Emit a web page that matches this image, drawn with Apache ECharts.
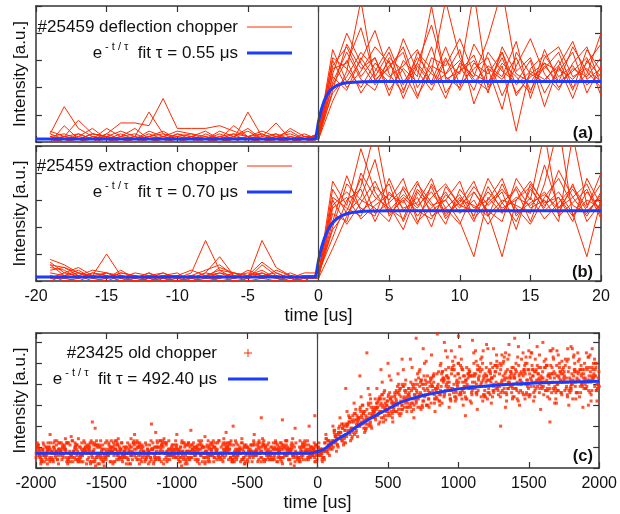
<!DOCTYPE html>
<html><head><meta charset="utf-8">
<script src="https://cdn.jsdelivr.net/npm/echarts/dist/echarts.min.js"></script>
<style>html,body{margin:0;padding:0;background:#fff}#c{width:620px;height:514px}</style>
</head><body><div id="c"></div><script>
// ---------- data ----------
const timeAB = [-19,-18,-17,-16,-15,-14,-13,-12,-11,-10,-9,-8,-7,-6,-5,-4,-3,-2,-1,0,1,2,3,4,5,6,7,8,9,10,11,12,13,14,15,16,17,18,19,20];
const xTicksAB = [-20,20,5];
const xTicksC = [-2000,2000,500];

const traceA1 = [3,13,5,2,1,1,0,1,2,1,1,0,2,1,1,0,2,1,0,2,28,35,24,31,19,27,22,35,18,26,30,21,33,17,25,29,20,27,24,31];
const traceA2 = [1,2,8,3,2,1,2,11,3,1,2,1,0,1,11,2,7,1,0,1,15,26,52,22,30,16,28,21,25,34,14,27,23,31,19,28,22,35,26,20];
const traceA3 = [2,1,2,1,3,7,7,6,16,5,5,5,6,4,2,1,1,0,1,3,34,22,30,41,25,18,33,27,16,29,24,38,56,26,31,18,27,23,29,36];
const traceA4 = [0,6,1,3,2,1,0,2,1,3,2,1,4,2,1,3,1,5,2,2,21,30,18,26,35,22,29,43,24,20,36,27,12,33,25,22,30,19,34,26];
const traceA5 = [4,2,1,0,3,1,2,0,1,2,3,1,0,2,4,1,0,2,1,1,25,40,29,21,28,33,17,26,52,31,23,19,28,4,27,32,24,28,21,25];
const traceA6 = [1,0,2,5,1,3,1,2,4,1,0,3,1,6,2,1,3,0,2,2,18,24,33,27,22,38,26,19,30,25,55,20,29,24,18,34,22,26,31,17];
const traceA7 = [0,1,0,2,1,0,1,3,1,0,2,1,3,1,2,0,1,2,1,3,30,20,26,35,29,21,31,25,22,28,19,33,26,22,30,13,28,37,23,27];
const traceA8 = [2,3,1,1,5,2,3,1,2,4,3,2,1,3,2,4,2,1,3,1,22,33,23,19,31,26,16,31,28,38,25,22,31,18,24,27,33,20,25,40];
const traceA9 = [1,2,3,1,0,2,1,4,2,1,2,0,1,2,5,1,2,3,1,2,27,29,42,24,33,19,29,22,35,21,27,31,17,28,38,25,19,29,35,21];
const traceA10 = [3,1,0,2,1,2,5,1,0,1,2,4,1,0,2,3,0,1,2,1,19,36,27,31,17,30,24,50,23,26,32,18,35,25,22,29,26,33,18,28];
const traceA11 = [0,2,1,3,2,0,1,2,3,2,1,2,0,1,1,2,3,1,0,2,24,19,31,23,27,35,20,28,25,30,22,28,24,37,16,31,35,24,27,22];
const traceA12 = [2,0,3,1,2,4,2,1,0,3,1,1,2,3,0,1,2,4,1,3,31,27,20,29,24,28,34,21,31,19,29,25,33,21,26,23,28,16,30,24];

const traceB1 = [8,6,3,2,10,2,1,0,2,1,3,15,4,1,2,3,1,0,2,2,37,28,49,33,25,30,21,36,27,32,24,38,29,22,34,27,41,31,24,33];
const traceB2 = [6,5,2,4,3,1,2,1,0,2,1,3,9,2,1,15,5,2,1,1,12,24,35,56,28,19,33,26,30,22,9,31,25,35,27,30,22,54,28,36];
const traceB3 = [7,3,5,2,1,4,1,2,1,0,2,1,5,3,2,1,4,2,0,3,28,33,27,24,38,26,31,20,35,28,33,25,9,30,37,28,33,25,9,30];
const traceB4 = [5,4,1,3,2,0,2,1,3,1,2,4,6,2,3,2,1,3,1,2,20,36,30,27,22,35,28,33,25,29,37,24,30,28,25,43,27,31,36,24];
const traceB5 = [6,2,4,1,3,2,0,1,2,3,0,2,3,1,2,7,3,1,2,1,25,22,40,31,27,23,36,29,21,34,27,30,38,24,31,23,29,35,27,40];
const traceB6 = [4,5,3,2,1,3,2,0,1,2,1,3,2,1,4,2,2,0,1,2,31,27,24,35,30,38,22,27,33,25,30,21,29,34,22,36,58,24,30,27];
const traceB7 = [2,1,2,0,1,2,1,3,0,1,2,1,1,2,0,1,2,1,3,3,16,30,34,22,33,27,29,38,24,31,22,35,26,31,28,33,25,36,22,29];
const traceB8 = [3,2,1,3,2,1,3,2,1,0,1,2,4,3,1,6,2,1,2,1,34,25,31,45,24,31,26,23,32,27,35,28,33,19,36,29,31,24,33,26];
const traceB9 = [1,3,2,1,0,2,1,2,3,1,0,1,2,0,1,3,1,2,1,2,22,39,26,30,36,22,34,28,30,37,23,29,34,27,21,31,38,28,25,32];
const traceB10 = [2,0,1,2,3,1,0,1,2,2,1,0,1,3,2,1,0,2,1,1,27,31,23,28,32,29,37,24,27,21,33,26,22,38,30,55,24,29,34,23];
const traceB11 = [0,2,3,1,2,0,1,3,1,2,4,2,0,1,2,4,1,0,2,2,19,26,38,25,29,34,24,31,36,28,26,33,27,30,35,26,31,22,38,28];
const traceB12 = [1,1,0,2,1,3,2,0,2,1,2,1,3,2,1,2,3,1,0,3,30,21,29,37,26,32,27,35,23,30,28,24,36,25,29,32,27,34,26,31];

const fitA_t = [-20,-0.2,0,0.2,0.4,0.6,0.8,1.0,1.3,1.6,2.0,2.5,3.2,4,20];
const fitA_y = [1.1,1.1,7.5,12.0,15.1,17.3,18.8,19.8,20.8,21.4,21.8,22.0,22.15,22.2,22.2];
const fitB_t = [-20,-0.2,0,0.2,0.4,0.6,0.8,1.0,1.3,1.6,2.0,2.5,3.2,4,5,20];
const fitB_y = [1.5,1.5,7.6,12.2,15.6,18.2,20.1,21.6,23.1,24.1,24.9,25.5,25.8,25.9,26,26];

// panel (c): sweeps sampled every 50 us from -2000 us, each with its own start offset
const sweepStart = -2000, sweepStep = 50;
const sweepOffsets = [0,25,12,37,6,31,18,43,3,28,15,40,9,34,21,46,23,10,35,48,1,30,17,42,26];
const sweep1 = [5,9,3,8,11,6,4,10,7,2,8,12,5,7,9,3,6,10,8,4,11,7,5,9,2,6,13,8,4,7,10,6,3,9,12,5,8,7,4,10,8,12,11,19,16,25,20,28,24,33,27,35,30,38,31,40,36,33,42,37,45,34,41,39,44,36,47,38,43,40,35,46,41,38,44,42,37,45,40,43,39];
const sweep2 = [8,4,10,6,2,9,12,5,7,3,10,6,8,14,4,7,9,5,11,6,3,8,10,7,5,12,6,9,4,8,11,3,7,10,6,9,5,13,7,8,6,9,15,13,22,18,27,22,31,25,34,28,36,31,39,30,41,35,38,44,33,47,36,42,35,48,38,43,32,45,41,36,49,38,42,34,46,40,37,44,42];
const sweep3 = [10,7,5,12,8,3,6,11,9,4,7,13,6,2,9,8,5,12,7,10,4,6,9,11,8,3,7,10,5,14,6,8,12,4,9,7,11,5,8,6,9,14,10,17,21,16,25,30,23,29,36,27,33,41,29,37,43,32,39,47,36,40,45,34,42,49,37,41,46,35,43,39,48,36,44,41,33,47,39,45,40];
const sweep4 = [3,8,6,10,5,9,7,2,11,6,8,4,10,7,12,5,3,9,6,8,13,4,7,10,6,9,5,11,8,3,7,12,6,9,4,10,7,5,11,8,5,11,16,12,19,24,19,26,33,27,31,38,29,35,42,33,38,46,35,41,38,44,49,37,43,40,46,34,42,50,39,44,37,45,41,48,36,43,46,38,44];
const sweep5 = [7,11,4,6,9,13,5,8,3,10,6,9,12,4,7,5,11,8,2,9,7,10,5,13,8,6,4,9,11,7,3,8,10,6,12,5,9,4,7,10,10,8,13,20,15,22,27,21,28,35,26,33,39,30,36,44,31,40,37,48,35,42,39,46,33,44,41,38,47,36,45,42,35,49,40,37,45,42,38,47,41];
const sweep6 = [6,2,9,7,12,4,8,10,5,7,3,11,8,6,10,4,9,13,6,7,5,12,8,3,10,7,9,5,6,11,8,4,10,7,5,13,6,8,9,3,4,13,12,15,24,20,22,29,26,31,24,37,32,28,41,35,33,45,39,34,47,38,36,43,41,37,45,39,44,35,47,42,38,43,36,46,41,39,48,37,43];
const sweep7 = [9,5,7,12,3,8,6,10,4,9,11,7,5,8,13,6,4,10,7,9,3,8,12,6,10,5,7,11,9,4,8,6,13,10,5,7,9,3,11,6,7,10,17,14,18,26,21,24,31,22,33,30,37,27,34,40,37,30,44,40,35,43,38,47,36,41,44,39,33,46,42,45,37,41,48,39,44,36,42,39,46];
const sweep8 = [4,10,8,5,7,11,9,3,6,12,8,5,10,7,4,9,6,11,13,5,8,10,4,7,9,6,12,3,8,10,5,7,11,6,9,4,8,12,5,7,8,9,14,18,14,21,25,27,22,32,29,26,35,38,30,36,34,41,33,39,44,36,42,34,48,39,35,44,40,47,37,43,40,36,45,38,42,47,35,43,40];
const sweep9 = [8,6,12,4,9,7,3,10,8,5,13,6,9,4,7,11,8,5,10,6,9,12,7,4,8,11,5,9,6,3,10,8,5,12,7,9,4,6,10,8,6,12,9,16,20,17,29,23,27,24,35,31,28,34,37,32,42,38,36,47,41,33,44,39,42,37,49,41,38,45,34,47,39,43,37,44,40,46,38,42,45];
const sweep10 = [5,8,10,7,4,12,6,9,11,3,7,8,5,10,6,12,9,4,8,7,10,5,6,11,9,7,3,12,8,5,6,10,9,4,8,11,6,7,13,5,9,11,15,19,17,23,19,31,25,28,32,26,37,33,29,38,35,39,43,32,37,46,40,35,45,38,42,36,49,40,44,38,42,46,36,41,47,40,44,37,41];
const sweep11 = [11,6,8,9,5,7,10,4,12,8,6,9,3,11,7,8,5,10,12,6,8,4,9,7,11,5,10,8,6,12,7,9,4,8,11,6,10,5,8,9,7,8,12,17,21,19,24,20,29,30,25,36,34,31,33,42,39,35,40,36,49,39,44,41,38,46,40,43,37,47,39,45,41,48,43,38,42,39,47,44,38];
const sweep12 = [7,9,5,11,8,6,13,7,2,9,10,5,7,12,8,6,10,3,9,11,6,8,10,5,7,12,8,4,9,6,11,7,8,5,10,9,3,8,6,11,5,10,11,14,19,23,18,25,27,30,28,32,29,40,35,33,38,43,37,42,39,44,37,45,43,40,36,48,42,39,46,41,44,38,47,43,36,45,41,38,46];
const sweep13 = [12,3,7,9,14,5,10,2,8,13,6,11,4,9,12,7,3,10,14,6,8,2,11,9,5,13,7,10,3,12,8,6,14,4,9,11,2,7,13,10,12,16,20,24,27,31,34,38,33,41,44,37,47,52,40,50,54,46,56,51,58,48,55,52,57,49,54,59,50,55,53,58,51,56,54,49,57,52,55,50,53];
const sweep14 = [2,9,13,4,7,11,3,12,6,1,10,14,5,8,2,11,7,13,4,9,1,12,6,10,3,8,14,5,11,2,7,13,4,9,12,6,1,10,5,3,3,6,8,11,13,15,17,19,21,23,22,25,27,24,28,30,27,31,29,33,30,32,28,34,31,35,29,33,30,36,32,28,34,31,35,30,33,29,36,32,34];
const sweep15 = [6,10,4,8,12,7,3,9,11,5,8,13,6,2,10,7,9,4,12,8,5,11,7,9,3,10,6,12,8,4,9,7,11,5,8,13,6,10,4,9,9,13,18,21,25,28,30,35,38,36,42,45,40,48,46,51,44,49,53,47,52,45,56,50,47,54,51,46,53,49,55,48,52,57,46,51,54,49,53,47,52];
const sweep16 = [9,4,11,7,3,8,12,6,10,5,2,9,7,13,6,8,4,11,9,5,12,7,3,10,8,6,11,4,9,7,13,5,8,10,3,7,12,6,9,4,5,12,10,18,15,24,19,27,30,25,34,28,38,33,29,41,36,43,32,45,39,35,47,41,37,50,43,34,46,40,52,38,44,31,48,42,36,50,44,39,47];
const sweep17 = [6,10,3,8,12,5,9,7,1,11,8,4,10,6,12,3,9,7,5,11,8,2,10,6,13,7,4,9,12,5,8,11,3,7,10,6,14,4,8,9,8,7,16,13,22,17,26,21,29,33,27,36,31,40,35,30,44,37,41,34,48,38,45,32,42,51,36,46,40,33,49,43,37,53,41,35,47,44,30,50,42];
const sweep18 = [10,6,8,2,9,13,4,7,11,6,9,3,12,8,5,10,7,13,4,8,6,11,9,2,7,10,5,12,8,4,9,6,11,7,3,10,8,5,12,7,6,14,13,15,20,26,22,31,24,35,29,32,39,29,45,34,40,36,47,38,43,33,50,40,36,46,42,54,38,44,35,49,41,45,37,52,40,34,48,43,38];
const sweep19 = [4,12,7,9,5,11,8,3,10,7,13,6,9,4,11,7,2,10,8,6,12,5,9,7,11,4,8,13,6,10,3,9,7,12,5,8,10,6,4,11,9,10,14,20,18,22,27,25,33,28,31,38,34,30,42,37,33,46,41,36,44,39,47,35,43,40,55,38,45,42,36,48,44,39,51,37,46,41,54,40,45];
const sweep20 = [8,5,13,10,6,3,9,12,7,4,10,8,5,11,9,2,7,12,6,10,4,8,11,5,9,13,6,3,10,7,12,8,5,9,11,4,7,10,6,8,4,11,17,12,23,20,24,29,27,32,36,30,35,42,32,39,45,34,38,50,41,37,44,48,39,34,47,43,52,38,41,46,33,49,43,39,55,42,37,46,49];
const sweep21 = [7,12,9,4,10,6,14,8,5,11,7,3,9,12,6,10,8,4,13,7,9,5,11,8,3,12,7,10,6,9,4,11,8,6,13,2,9,7,11,5,10,9,12,17,21,19,28,23,26,31,34,27,40,36,32,38,43,39,35,45,50,42,38,48,44,40,36,52,45,41,47,38,43,56,40,46,38,51,43,48,36];
const sweep22 = [5,9,7,12,3,10,6,8,13,4,9,11,6,7,10,5,12,8,3,9,7,11,4,10,6,8,12,5,9,2,11,7,10,4,8,13,6,9,5,10,7,13,15,21,16,25,23,20,32,29,26,35,33,39,36,44,31,42,48,37,41,46,35,44,50,39,43,48,36,53,44,40,49,37,45,52,39,47,42,50,44];
const sweep23 = [11,7,4,9,12,8,5,10,3,7,12,9,6,10,4,8,13,5,7,11,9,3,8,12,6,10,7,4,13,9,5,8,11,6,3,10,12,7,9,6,6,8,18,14,17,23,30,26,28,24,33,39,29,37,43,35,39,32,44,49,36,45,41,53,46,38,50,44,41,47,55,42,48,45,50,43,53,47,41,52,48];
const sweep24 = [3,10,8,6,11,4,9,13,7,5,8,10,2,12,7,9,5,11,6,13,8,4,10,7,12,5,9,3,8,11,6,10,7,4,12,9,5,11,8,6,8,12,11,15,22,24,21,28,34,30,27,34,31,35,40,29,37,42,33,40,36,31,43,39,34,45,32,40,37,42,34,39,45,33,41,36,43,38,32,40,37];
const sweep25 = [9,6,12,8,4,10,7,11,5,9,3,12,8,6,10,4,9,7,12,5,10,8,6,13,4,9,11,7,5,10,8,12,4,7,9,6,11,3,8,12,7,11,13,19,24,21,26,33,29,37,31,40,42,38,47,41,45,50,43,53,47,44,51,56,46,49,53,45,58,50,47,54,49,52,46,57,50,45,53,48,51];
const outlierT = [-1900,-1750,-1600,-1580,-1300,-1180,-1150,-1000,-900,-800,-650,-600,-450,-400,-250,-160,-60,-20,200,300,350,450,500,600,700,750,850,900,950,1000,1050,1100,1200,1250,1300,1400,1500,1600,1650,1700,1800,1950];
const outlierY = [16,15,22,19,16,21,17,16,18,15,17,20,16,24,23,19,20,25,38,44,55,47,50,52,62,57,64,60,56,63,25,61,59,57,20,62,56,60,22,56,58,57];

const fitC_t = [-2000,-60,-30,0,46,103,160,223,280,342,400,457,520,577,650,750,850,1000,1200,1400,1600,1800,2000];
const fitC_y = [7.1,7.1,7.3,7.8,9,12,14.5,17,19.8,22.4,24.6,26.7,28.9,31,32.8,34.6,36,37.8,39.2,40.1,40.7,41.1,41.4];

// ---------- chart ----------
const FONT = '"Liberation Sans", Arial, Helvetica, sans-serif';
const RED = '#ff2a00', BLUE = '#1a3cff', FRAME = '#333', TXT = '#111';
const tracesA = [traceA1,traceA2,traceA3,traceA4,traceA5,traceA6,traceA7,traceA8,traceA9,traceA10,traceA11,traceA12];
const tracesB = [traceB1,traceB2,traceB3,traceB4,traceB5,traceB6,traceB7,traceB8,traceB9,traceB10,traceB11,traceB12];
const sweeps = [sweep1,sweep2,sweep3,sweep4,sweep5,sweep6,sweep7,sweep8,sweep9,sweep10,sweep11,sweep12,sweep13,
  sweep14,sweep15,sweep16,sweep17,sweep18,sweep19,sweep20,sweep21,sweep22,sweep23,sweep24,sweep25];

const grids = [
  {left:36, top:6, width:565, height:136},
  {left:36, top:146, width:565, height:135},
  {left:36, top:333, width:565, height:135}
];
const yMax = [50, 50, 64.5];
const xSpec = [xTicksAB, xTicksAB, xTicksC];
const showX = [false, true, true];

const line = {show:true, onZero:false, lineStyle:{color:FRAME, width:1.5}};
const tick = {show:true, inside:true, length:6, lineStyle:{color:FRAME, width:1.2}};
const xAxes = [], yAxes = [];
grids.forEach((g, i) => {
  const [mn, mx, iv] = xSpec[i];
  xAxes.push({gridIndex:i, type:'value', position:'bottom', min:mn, max:mx, interval:iv,
    axisLine:line, axisTick:tick, splitLine:{show:false},
    axisLabel:{show:showX[i], fontSize:16, color:TXT, fontFamily:FONT, margin:8, showMinLabel:true, showMaxLabel:true,
      formatter: v => String(v)},
    name: showX[i] ? 'time [us]' : '', nameLocation:'middle', nameGap:26,
    nameTextStyle:{fontSize:18, color:TXT, fontFamily:FONT}});
  xAxes.push({gridIndex:i, type:'value', position:'top', min:mn, max:mx, interval:iv,
    axisLine:line, axisTick:tick, splitLine:{show:false}, axisLabel:{show:false}});
  yAxes.push({gridIndex:i, type:'value', position:'left', min:0, max:yMax[i], interval:10,
    axisLine:line, axisTick:tick, splitLine:{show:false}, axisLabel:{show:false},
    name:'Intensity [a.u.]', nameLocation:'middle', nameGap:7,
    nameTextStyle:{fontSize:17, color:TXT, fontFamily:FONT}});
  yAxes.push({gridIndex:i, type:'value', position:'right', min:0, max:yMax[i], interval:10,
    axisLine:line, axisTick:tick, splitLine:{show:false}, axisLabel:{show:false}});
});

const zeroLine = {silent:true, symbol:['none','none'], label:{show:false}, animation:false,
  lineStyle:{color:'#444', width:1.2, type:'solid'}, data:[{xAxis:0}]};

const series = [];
function addTraces(list, gi) {
  list.forEach((tr, k) => {
    const s = {type:'line', xAxisIndex:2*gi, yAxisIndex:2*gi, symbol:'none', silent:true,
      lineStyle:{color:RED, width:1}, data: timeAB.map((t, j) => [t, tr[j]]), z:2};
    if (k === 0) s.markLine = zeroLine;
    series.push(s);
  });
}
addTraces(tracesA, 0);
series.push({type:'line', xAxisIndex:0, yAxisIndex:0, symbol:'none', silent:true, z:3,
  lineStyle:{color:BLUE, width:3}, data: fitA_t.map((t, j) => [t, fitA_y[j]])});
addTraces(tracesB, 1);
series.push({type:'line', xAxisIndex:2, yAxisIndex:2, symbol:'none', silent:true, z:3,
  lineStyle:{color:BLUE, width:3}, data: fitB_t.map((t, j) => [t, fitB_y[j]])});

const scatterData = [];
sweeps.forEach((sw, k) => sw.forEach((v, j) => scatterData.push([sweepStart + j*sweepStep + sweepOffsets[k], v])));
outlierT.forEach((t, j) => scatterData.push([t, outlierY[j]]));
series.push({type:'scatter', xAxisIndex:4, yAxisIndex:4, symbol:'rect', symbolSize:3, silent:true,
  itemStyle:{color:RED}, data:scatterData, z:2, markLine:zeroLine});
series.push({type:'line', xAxisIndex:4, yAxisIndex:4, symbol:'none', silent:true, z:3, smooth:0.3,
  lineStyle:{color:BLUE, width:3}, data: fitC_t.map((t, j) => [t, fitC_y[j]])});

function txt(x, y, text, extra) {
  return Object.assign({type:'text', x:x, y:y, z:100,
    style:{text:text, fontSize:17, fontFamily:FONT, fill:TXT, align:'right', verticalAlign:'middle'}}, extra || {});
}
function fitTxt(x, y, tau) {
  return {type:'text', x:x, y:y, z:100, style:{
    text:'{n|e}{s|- t / τ}{n|  fit τ = ' + tau + ' μs}', align:'right', verticalAlign:'middle', fill:TXT,
    rich:{n:{fontSize:17, fontFamily:FONT, fill:TXT, lineHeight:24},
          s:{fontSize:11, fontFamily:FONT, fill:TXT, verticalAlign:'top', padding:[0,0,0,3]}}}};
}
function seg(x1, y1, x2, y2, color, w) {
  return {type:'line', z:100, shape:{x1:x1, y1:y1, x2:x2, y2:y2}, style:{stroke:color, lineWidth:w}};
}
function lbl(x, y, t) {
  const e = txt(x, y, t); e.style.fontWeight = 'bold'; e.style.fontSize = 16.5; return e;
}

const graphic = [
  txt(238, 27, '#25459 deflection chopper'), seg(247, 27, 292, 27, RED, 1),
  fitTxt(238, 53, '0.55'), seg(247, 53, 292, 53, BLUE, 3),
  txt(238, 166, '#25459 extraction chopper'), seg(247, 166, 292, 166, RED, 1),
  fitTxt(238, 192, '0.70'), seg(247, 192, 292, 192, BLUE, 3),
  txt(217, 353, '#23425 old chopper'), seg(244, 353, 252, 353, RED, 1), seg(248, 349, 248, 357, RED, 1),
  fitTxt(217, 379, '492.40'), seg(228, 379, 268, 379, BLUE, 3),
  lbl(593, 133, '(a)'), lbl(593, 272, '(b)'), lbl(593, 456, '(c)')
];

const chart = echarts.init(document.getElementById('c'), null, {renderer:'canvas'});
chart.setOption({
  animation:false, backgroundColor:'#fff',
  grid:grids, xAxis:xAxes, yAxis:yAxes, series:series, graphic:graphic
});
</script></body></html>
